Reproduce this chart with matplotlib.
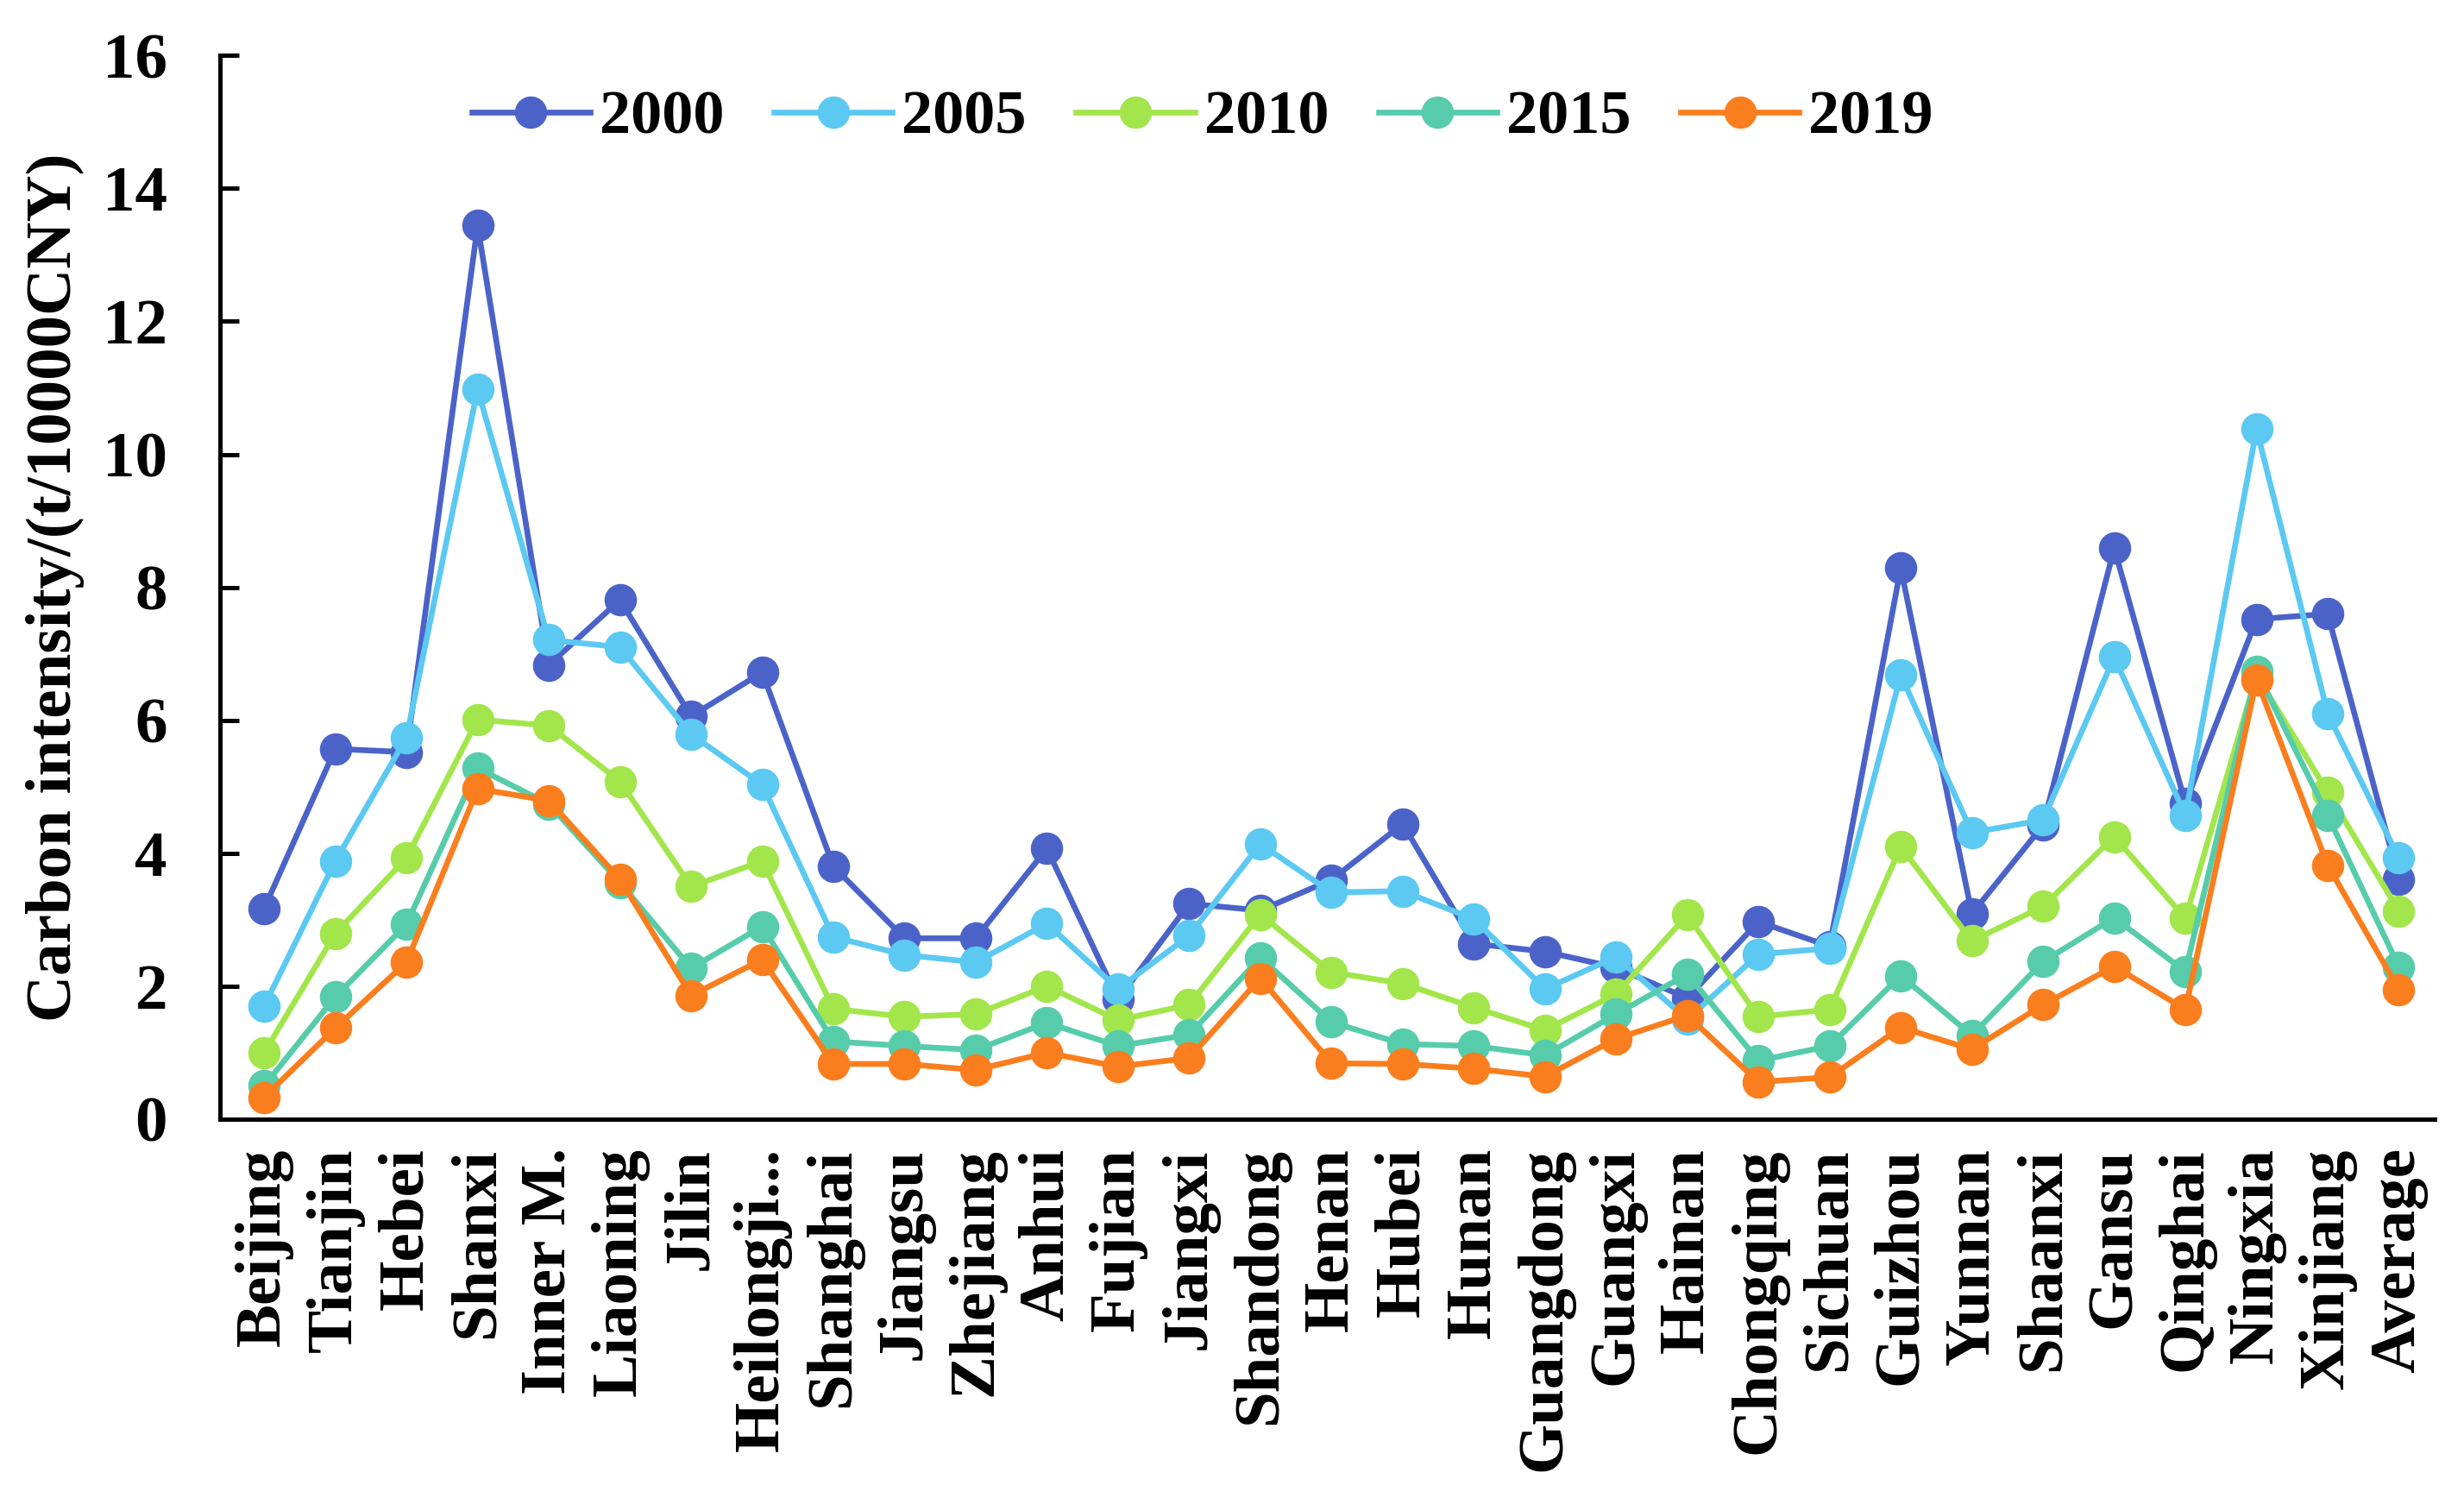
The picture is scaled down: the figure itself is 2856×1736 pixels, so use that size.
import numpy as np
import matplotlib
matplotlib.use("Agg")
import matplotlib.pyplot as plt

plt.rcParams['font.family'] = ['Liberation Serif', 'DejaVu Serif']
plt.rcParams['font.weight'] = 'bold'

# provinces on the x axis
provinces = ['Beijing', 'Tianjin', 'Hebei', 'Shanxi', 'Inner M.', 'Liaoning', 'Jilin',
             'Heilongji...', 'Shanghai', 'Jiangsu', 'Zhejiang', 'Anhui', 'Fujian', 'Jiangxi',
             'Shandong', 'Henan', 'Hubei', 'Hunan', 'Guangdong', 'Guangxi', 'Hainan',
             'Chongqing', 'Sichuan', 'Guizhou', 'Yunnan', 'Shaanxi', 'Gansu', 'Qinghai',
             'Ningxia', 'Xinjiang', 'Average']

# carbon intensity, t/10000CNY
y2000 = [3.17, 5.57, 5.52, 13.44, 6.83, 7.81, 6.06, 6.72, 3.80, 2.72, 2.72, 4.07, 1.80, 3.24,
         3.14, 3.60, 4.44, 2.64, 2.52, 2.28, 1.82, 2.97, 2.60, 8.29, 3.09, 4.42, 8.59, 4.75,
         7.52, 7.60, 3.61]
y2005 = [1.70, 3.88, 5.74, 10.98, 7.21, 7.10, 5.79, 5.03, 2.74, 2.47, 2.36, 2.94, 1.96, 2.76,
         4.14, 3.41, 3.43, 3.01, 1.96, 2.44, 1.50, 2.48, 2.57, 6.68, 4.31, 4.50, 6.95, 4.57,
         10.38, 6.10, 3.93]
y2010 = [1.00, 2.79, 3.93, 6.01, 5.92, 5.08, 3.50, 3.88, 1.66, 1.54, 1.58, 2.00, 1.49, 1.72,
         3.08, 2.21, 2.04, 1.68, 1.34, 1.88, 3.07, 1.54, 1.65, 4.10, 2.68, 3.20, 4.25, 3.02,
         6.68, 4.92, 3.13]
y2015 = [0.50, 1.84, 2.93, 5.28, 4.74, 3.56, 2.27, 2.90, 1.17, 1.10, 1.04, 1.45, 1.10, 1.27,
         2.43, 1.46, 1.13, 1.10, 0.96, 1.58, 2.18, 0.88, 1.10, 2.16, 1.26, 2.37, 3.03, 2.22,
         6.74, 4.57, 2.29]
y2019 = [0.33, 1.37, 2.36, 4.97, 4.79, 3.61, 1.86, 2.40, 0.83, 0.83, 0.74, 1.00, 0.79, 0.92,
         2.12, 0.84, 0.83, 0.76, 0.64, 1.21, 1.56, 0.56, 0.63, 1.38, 1.05, 1.72, 2.30, 1.65,
         6.61, 3.82, 1.95]

years = ['2000', '2005', '2010', '2015', '2019']
series = [y2000, y2005, y2010, y2015, y2019]
colors = ['#4B63C9', '#5BC9F1', '#A2E64B', '#56CCAB', '#FA7E1E']

fig = plt.figure(figsize=(14.28, 8.68), dpi=200)
ax = fig.add_axes([0.0893, 0.2529, 0.8987, 0.7101])

x = np.arange(len(provinces))
for vals, c, lab in zip(series, colors, years):
    ax.plot(x, vals, color=c, lw=2.4, marker='o', markersize=12.5, label=lab)

ax.set_ylim(0, 16)
ax.set_yticks(np.arange(0, 17, 2))
ax.set_xlim(-0.62, 30.5)
ax.set_xticks(x)
ax.set_xticklabels(provinces, rotation=90, fontsize=27, fontweight='bold')
ax.tick_params(axis='x', length=0, pad=12)
ax.tick_params(axis='y', direction='in', length=8, width=1.8, pad=22, labelsize=27)
for t in ax.get_yticklabels():
    t.set_fontweight('bold')

for s in ['top', 'right']:
    ax.spines[s].set_visible(False)
for s in ['left', 'bottom']:
    ax.spines[s].set_linewidth(1.8)

fig.text(0.0224, 0.608, 'Carbon intensity/(t/10000CNY)', rotation=90,
         ha='center', va='center', fontsize=27, fontweight='bold')

ax.legend(loc='center', bbox_to_anchor=(0.488, 0.921), bbox_transform=fig.transFigure,
          ncol=5, frameon=False, handlelength=1.9, handletextpad=0.15,
          columnspacing=0.8, prop={'weight': 'bold', 'size': 26})

fig.savefig('out.png', dpi=200)
